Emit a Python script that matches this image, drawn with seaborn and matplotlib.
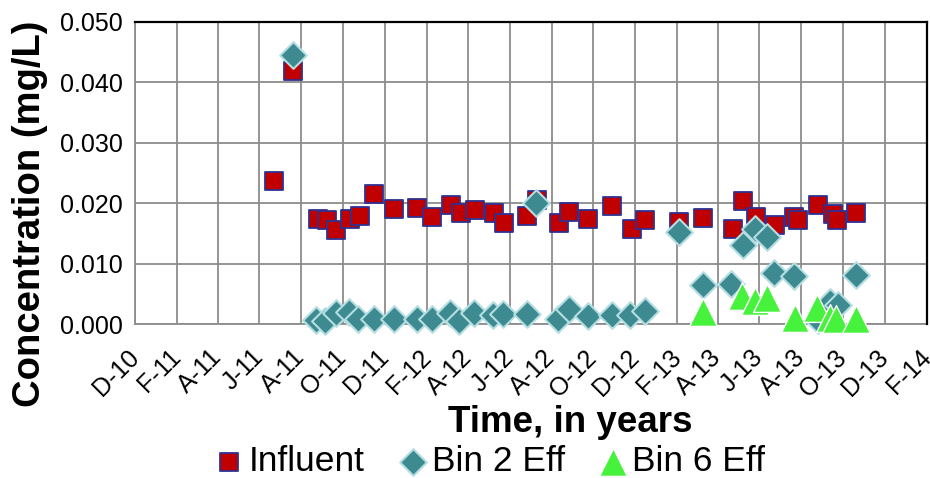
import matplotlib
matplotlib.use("Agg")
import matplotlib.pyplot as plt
import pandas as pd
import seaborn as sns

# ---------------- data ----------------
influent_dates = [
    "2011-06-22", "2011-07-20", "2011-08-25", "2011-09-08", "2011-09-21", "2011-10-12",
    "2011-10-26", "2011-11-16", "2011-12-14", "2012-01-18", "2012-02-08", "2012-03-07",
    "2012-03-21", "2012-04-11", "2012-05-09", "2012-05-23", "2012-06-26", "2012-07-11",
    "2012-08-12", "2012-08-27", "2012-09-24", "2012-10-29", "2012-11-26", "2012-12-16",
    "2013-02-04", "2013-03-11", "2013-04-23", "2013-05-08", "2013-05-27", "2013-06-24",
    "2013-07-22", "2013-07-28", "2013-08-25", "2013-09-16", "2013-09-23", "2013-10-20",
]
influent_values = [
    0.0237, 0.0418, 0.0174, 0.0173, 0.0156, 0.0174,
    0.0179, 0.0216, 0.0190, 0.0192, 0.0178, 0.0197,
    0.0184, 0.0189, 0.0184, 0.0168, 0.0179, 0.0205,
    0.0167, 0.0186, 0.0174, 0.0196, 0.0157, 0.0172,
    0.0169, 0.0175, 0.0158, 0.0204, 0.0178, 0.0164,
    0.0178, 0.0173, 0.0197, 0.0183, 0.0172, 0.0184,
]

bin2_dates = [
    "2011-07-20", "2011-08-23", "2011-09-05", "2011-09-21", "2011-10-10", "2011-10-23",
    "2011-11-15", "2011-12-14", "2012-01-17", "2012-02-08", "2012-03-05", "2012-03-19",
    "2012-04-10", "2012-05-08", "2012-05-22", "2012-06-26", "2012-07-10", "2012-08-11",
    "2012-08-27", "2012-09-24", "2012-10-28", "2012-11-24", "2012-12-16", "2013-02-04",
    "2013-03-11", "2013-04-21", "2013-05-08", "2013-05-25", "2013-06-12", "2013-06-23",
    "2013-07-22", "2013-08-26", "2013-09-12", "2013-09-24", "2013-10-20",
]
bin2_values = [
    0.0445, 0.0007, 0.0005, 0.0018, 0.0021, 0.0008,
    0.0008, 0.0008, 0.0008, 0.0008, 0.0018, 0.0006,
    0.0018, 0.0015, 0.0017, 0.0017, 0.0200, 0.0008,
    0.0025, 0.0013, 0.0015, 0.0016, 0.0022, 0.0153,
    0.0065, 0.0066, 0.0131, 0.0158, 0.0145, 0.0084,
    0.0079, 0.0007, 0.0037, 0.0032, 0.0081,
]

bin6_dates = [
    "2013-03-11", "2013-05-06", "2013-05-25", "2013-06-12", "2013-07-23",
    "2013-08-24", "2013-09-12", "2013-09-21", "2013-10-20",
]
bin6_values = [0.0021, 0.0046, 0.0039, 0.0043, 0.0010, 0.0027, 0.0010, 0.0009, 0.0009]

x_tick_dates = [
    "2010-12-01", "2011-02-01", "2011-04-01", "2011-06-01", "2011-08-01", "2011-10-01",
    "2011-12-01", "2012-02-01", "2012-04-01", "2012-06-01", "2012-08-01", "2012-10-01",
    "2012-12-01", "2013-02-01", "2013-04-01", "2013-06-01", "2013-08-01", "2013-10-01",
    "2013-12-01", "2014-02-01",
]
x_tick_labels = [
    "D-10", "F-11", "A-11", "J-11", "A-11", "O-11", "D-11", "F-12", "A-12", "J-12",
    "A-12", "O-12", "D-12", "F-13", "A-13", "J-13", "A-13", "O-13", "D-13", "F-14",
]
y_ticks = [0.0, 0.01, 0.02, 0.03, 0.04, 0.05]
y_tick_labels = ["0.000", "0.010", "0.020", "0.030", "0.040", "0.050"]

series_names = ["Influent", "Bin 2 Eff", "Bin 6 Eff"]

# ---------------- style ----------------
sns.set_theme(style="white")
plt.rcParams["font.family"] = ["Liberation Sans", "DejaVu Sans"]
plt.rcParams["text.color"] = "black"
plt.rcParams["axes.labelcolor"] = "black"
plt.rcParams["xtick.color"] = "black"
plt.rcParams["ytick.color"] = "black"

W, H = 930, 478
fig = plt.figure(figsize=(W / 100, H / 100), dpi=100)
left, right, top, bottom = 135, 927, 21.7, 324.3
ax = fig.add_axes([left / W, 1 - bottom / H, (right - left) / W, (bottom - top) / H])

df_inf = pd.DataFrame({"date": pd.to_datetime(influent_dates), "value": influent_values})
df_b2 = pd.DataFrame({"date": pd.to_datetime(bin2_dates), "value": bin2_values})
df_b6 = pd.DataFrame({"date": pd.to_datetime(bin6_dates), "value": bin6_values})

sns.scatterplot(data=df_inf, x="date", y="value", ax=ax, marker="s", s=175,
                color="#C00000", edgecolor="#2E3192", linewidth=1.3,
                label=series_names[0], zorder=3, clip_on=False, legend=False)
sns.scatterplot(data=df_b2, x="date", y="value", ax=ax, marker="D", s=185,
                color="#3D8B90", edgecolor="#B5DEE2", linewidth=1.5,
                label=series_names[1], zorder=4, clip_on=False, legend=False)
sns.scatterplot(data=df_b6, x="date", y="value", ax=ax, marker="^", s=400,
                color="#46F23C", edgecolor="white", linewidth=1.0,
                label=series_names[2], zorder=5, clip_on=False, legend=False)

ax.set_xlim(pd.Timestamp(x_tick_dates[0]), pd.Timestamp(x_tick_dates[-1]))
ax.set_ylim(y_ticks[0], y_ticks[-1])
ax.set_xticks(pd.to_datetime(x_tick_dates))
ax.set_xticklabels(x_tick_labels, rotation=45, ha="right", va="center",
                   rotation_mode="anchor", fontsize=18)
ax.set_yticks(y_ticks)
ax.set_yticklabels(y_tick_labels, fontsize=18)
ax.set_xlabel("")
ax.set_ylabel("")

ax.grid(True, which="major", color="#8C8C8C", linewidth=1.3)
ax.set_axisbelow(True)
ax.tick_params(axis="both", which="major", direction="out", length=5, width=1.2,
               color="#8C8C8C", labelcolor="black")
ax.tick_params(axis="y", pad=4)
ax.tick_params(axis="x", pad=16)
for side in ["top", "right"]:
    ax.spines[side].set_color("black")
    ax.spines[side].set_linewidth(1.6)
for side in ["left", "bottom"]:
    ax.spines[side].set_color("#8C8C8C")
    ax.spines[side].set_linewidth(1.3)
    ax.spines[side].set_zorder(2)

fig.text(30 / W, 1 - 214 / H, "Concentration (mg/L)", rotation=90, ha="center",
         va="center", fontsize=27.5, fontweight="bold", color="black")
fig.text(570 / W, 1 - 432 / H, "Time, in years", ha="center", va="baseline",
         fontsize=26.5, fontweight="bold", color="black")

handles, labels = ax.get_legend_handles_labels()
if ax.get_legend() is not None:
    ax.get_legend().remove()
fig.legend(handles, labels, loc="center", bbox_to_anchor=(492 / W, 1 - 461.5 / H),
           ncol=3, frameon=False, fontsize=25.5, handlelength=0.6, handletextpad=0.25,
           columnspacing=1.05, borderpad=0, borderaxespad=0, markerscale=1.0,
           labelcolor="black")

fig.savefig("out.png", dpi=100)
